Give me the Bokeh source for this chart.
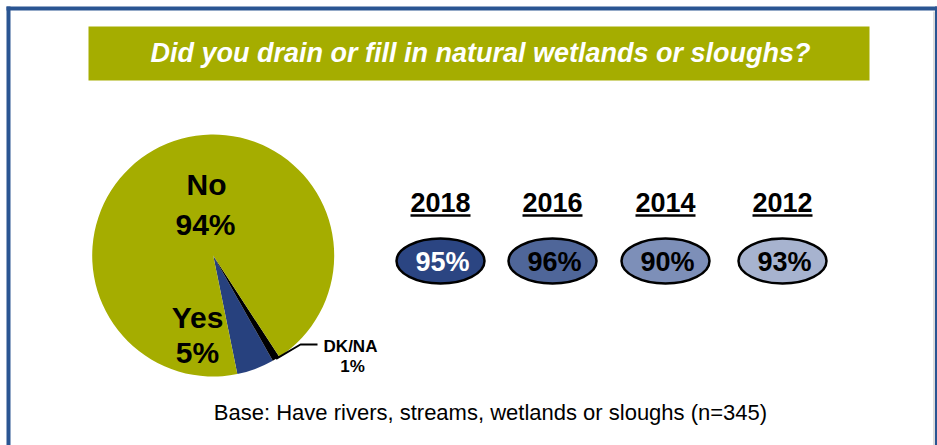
import numpy as np
from bokeh.plotting import figure
from bokeh.models import Range1d, ColumnDataSource
from bokeh.embed import file_html
from bokeh.resources import INLINE
from bokeh.core.properties import value

# ---- data ----
title_text = "Did you drain or fill in natural wetlands or sloughs?"
base_note = "Base: Have rivers, streams, wetlands or sloughs (n=345)"
pie_labels = ["Yes", "DK/NA", "No"]
pie_values = [5, 1, 94]
pie_colors = ["#27417E", "#000000", "#A5AD00"]
years = ["2018", "2016", "2014", "2012"]
year_values = [95, 96, 90, 93]
oval_colors = ["#2B4582", "#4F6699", "#7D8FB8", "#A7B3CF"]
oval_text_colors = ["white", "black", "black", "black"]

FONT = "Liberation Sans"
FRAME = "#2A5592"
OLIVE = "#A5AD00"

p = figure(width=937, height=445, x_range=Range1d(0, 937), y_range=Range1d(-445, 0),
           output_backend="svg", toolbar_location=None, min_border=0,
           x_axis_location=None, y_axis_location=None)
p.grid.visible = False
p.outline_line_color = None
p.background_fill_color = "white"
p.border_fill_color = "white"

# ---- frame ----
p.segment(x0=[933.5], y0=[-11], x1=[933.5], y1=[-445], line_color="#BBBBBB", line_width=1)
p.segment(x0=[8, 6, 936], y0=[-6, -8, -6], x1=[8, 937, 936], y1=[-445, -8, -445],
          line_color=FRAME, line_width=[4, 4, 3])

# ---- title banner ----
p.quad(left=[88], right=[869], top=[-26], bottom=[-80], fill_color=OLIVE, line_color=None)
p.text(x=[480], y=[-52.5], text=[title_text], text_color="white",
       text_font=value(FONT), text_font_style="bold italic", text_font_size="27px",
       text_align="center", text_baseline="middle")

# ---- pie ----
cx, cy, r = 212.7, -255.0, 121.0
start0 = np.deg2rad(-78.5)
vals = np.array(pie_values, dtype=float)
ends = start0 + np.cumsum(vals) / vals.sum() * 2 * np.pi
starts = ends - vals / vals.sum() * 2 * np.pi
src = ColumnDataSource(dict(start=starts, end=ends, color=pie_colors, label=pie_labels))
p.wedge(x=cx, y=cy, radius=r, start_angle="start", end_angle="end", direction="anticlock",
        fill_color="color", line_color=None, source=src)

# leader line for DK/NA
mid = (starts[1] + ends[1]) / 2
lx0, ly0 = cx + r * np.cos(mid), cy + r * np.sin(mid)
p.line(x=[lx0, 300, 317], y=[ly0, -344, -344], line_color="black", line_width=2)

def lbl(x, y, t, size, color="black"):
    p.text(x=[x], y=[y], text=[t], text_color=color, text_font=value(FONT),
           text_font_style="bold", text_font_size=size, text_align="center",
           text_baseline="middle")

lbl(206, -184, pie_labels[2], "30px")
lbl(205, -224, f"{pie_values[2]}%", "30px")
lbl(197, -317, pie_labels[0], "30px")
lbl(197, -352, f"{pie_values[0]}%", "30px")
lbl(350, -346, pie_labels[1], "17px")
lbl(352, -366, f"{pie_values[1]}%", "17px")

# ---- year ovals ----
xs = [440, 552, 665, 782]
ysrc = ColumnDataSource(dict(x=xs, yr=years, v=[f"{v}%" for v in year_values],
                             fc=oval_colors, tc=oval_text_colors,
                             tx=[x + 2 for x in xs],
                             ux0=[x - 30 for x in xs], ux1=[x + 30 for x in xs]))
p.text(x="x", y=-202, text="yr", source=ysrc, text_color="black", text_font=value(FONT),
       text_font_style="bold", text_font_size="27px", text_align="center",
       text_baseline="middle")
p.segment(x0="ux0", x1="ux1", y0=-215, y1=-215, source=ysrc, line_color="black", line_width=2.5)
p.ellipse(x="x", y=-260.5, width=88, height=45, fill_color="fc", line_color="black",
          line_width=2.5, source=ysrc)
p.text(x="tx", y=-261, text="v", source=ysrc, text_color="tc", text_font=value(FONT),
       text_font_style="bold", text_font_size="27px", text_align="center",
       text_baseline="middle")

# ---- base note ----
p.text(x=[490], y=[-412], text=[base_note], text_color="black", text_font=value(FONT),
       text_font_size="22px", text_align="center", text_baseline="middle")

open("out.html", "w").write(file_html(p, INLINE))
